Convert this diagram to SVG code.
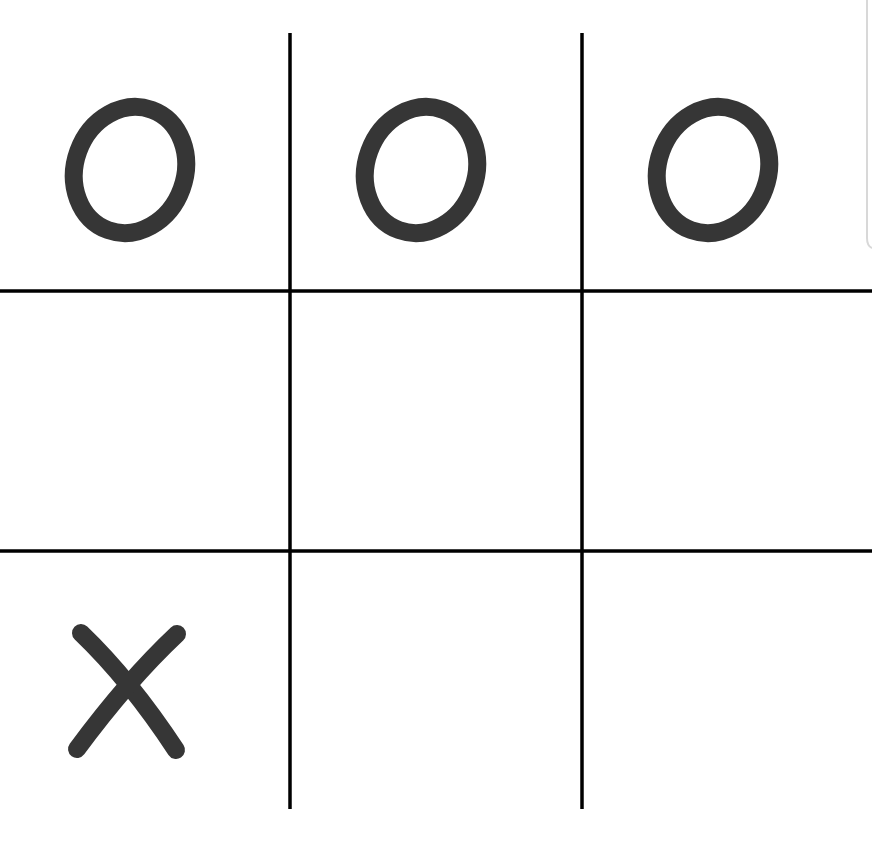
<svg xmlns="http://www.w3.org/2000/svg" width="872" height="848" viewBox="0 0 872 848">
<style>
.grid{stroke:#000;stroke-width:3.5;fill:none}
.mark{stroke:#363636;stroke-width:18;fill:none;stroke-linecap:round}
</style>
<rect width="872" height="848" fill="#fff"/>
<path d="M867 0 V238 Q867 246 872 248" stroke="#d8d8d8" stroke-width="2" fill="none"/>
<g id="grid">
<line class="grid" x1="290" y1="33" x2="290" y2="809"/>
<line class="grid" x1="582" y1="33" x2="582" y2="809"/>
<line class="grid" x1="0" y1="291" x2="872" y2="291"/>
<line class="grid" x1="0" y1="551" x2="872" y2="551"/>
</g>
<g id="o1"><ellipse class="mark" cx="130" cy="170" rx="55" ry="64" transform="rotate(20 130 170)"/></g>
<g id="o2"><ellipse class="mark" cx="421" cy="170" rx="55" ry="64" transform="rotate(20 421 170)"/></g>
<g id="o3"><ellipse class="mark" cx="713" cy="170" rx="55" ry="64" transform="rotate(20 713 170)"/></g>
<g id="x1">
<path class="mark" d="M81 633 Q130 680 176 750"/>
<path class="mark" d="M177 634 Q128 680 77 749"/>
</g>
</svg>
